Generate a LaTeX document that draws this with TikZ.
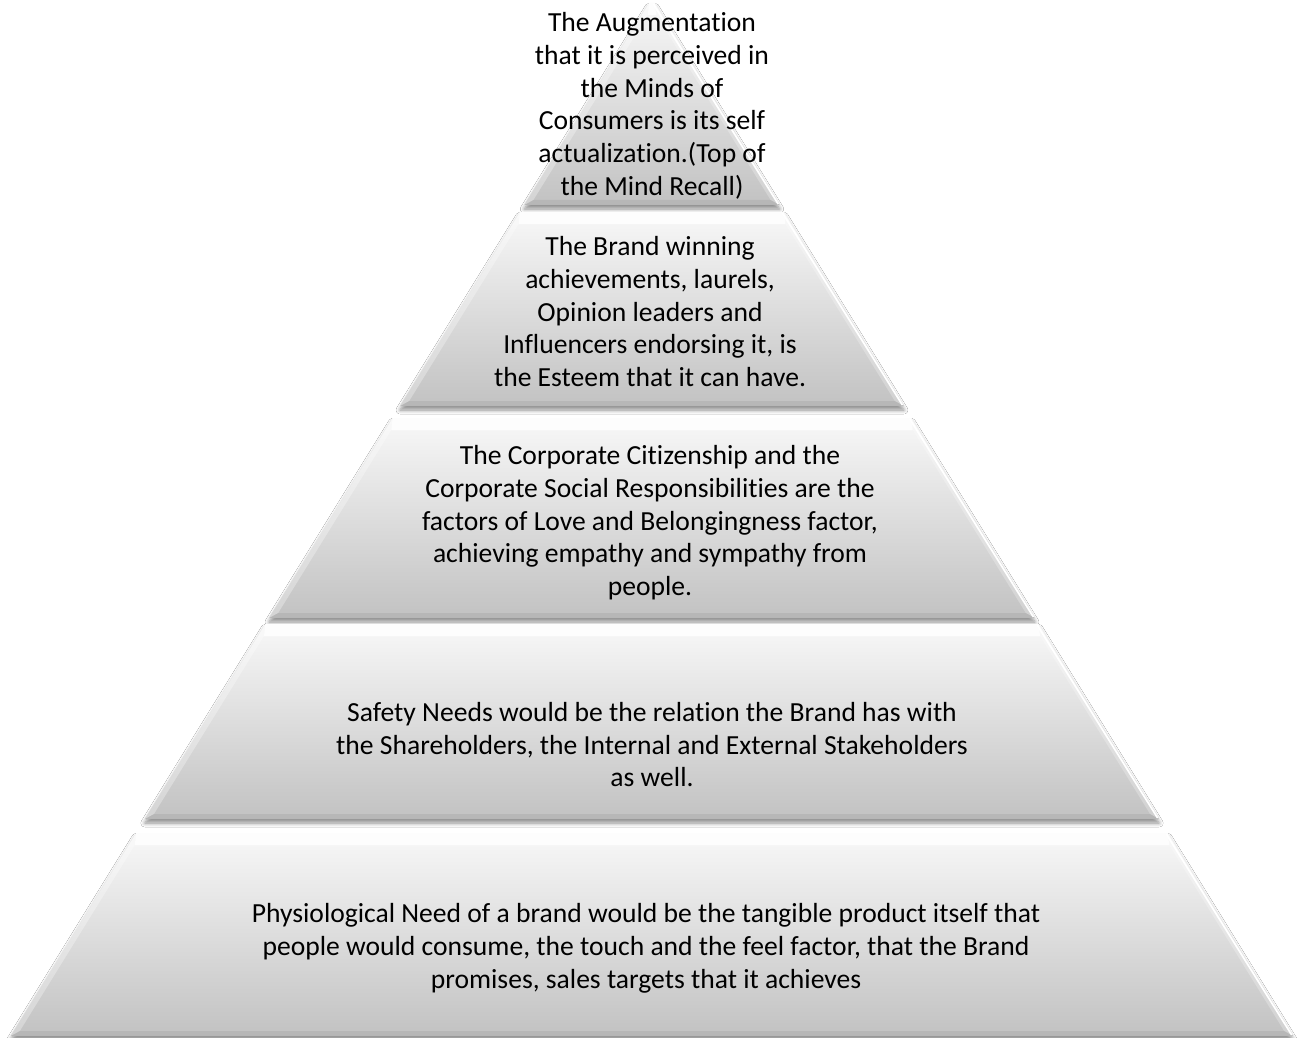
\documentclass[tikz,border=0pt]{standalone}
\usepackage{fontspec}
\setmainfont{Carlito}[Ligatures=NoCommon]
\usetikzlibrary{shadows.blur}

\definecolor{tiertop}{HTML}{F8F8F8}
\definecolor{tierbot}{HTML}{C2C2C2}

\tikzset{
  tierbody/.style={top color=tiertop, bottom color=tierbot,
    blur shadow={shadow xshift=0pt, shadow yshift=-3pt,
      shadow blur radius=3pt, shadow blur steps=6, shadow opacity=45}},
  tierlight/.style={fill=white, opacity=#1},
  tiershade/.style={fill=black, opacity=#1},
  tieredge/.style={draw=white, line width=1.3pt},
  tiertext/.style={align=center, inner sep=0pt, text=black,
    font=\fontsize{20.7}{24.6}\selectfont}
}

% One bevelled band of the pyramid, between y = #1 and y = #2 (pixels, downwards)
\newcommand\pyrtier[2]{%
  \pgfmathsetmacro\hwa{0.618*(#1)+1}%
  \pgfmathsetmacro\hwb{0.618*(#2)+1}%
  \pgfmathsetmacro\hwc{0.618*(#1+12)+1}%
  \pgfmathsetmacro\hwd{0.618*(#2-5)+1}%
  \path[tierbody] (652-\hwa,#1) -- (652+\hwa,#1) -- (652+\hwb,#2)
    -- (652-\hwb,#2) -- cycle;
  % top bevel face
  \fill[tierlight=0.8] (652-\hwa,#1) -- (652+\hwa,#1) -- (652+\hwc-6,#1+12)
    -- (652-\hwc+6,#1+12) -- cycle;
  % side bevel faces
  \fill[tierlight=0.3] (652-\hwa,#1) -- (652-\hwc+6,#1+12) -- (652-\hwd+6,#2-5)
    -- (652-\hwb,#2) -- cycle;
  \fill[tierlight=0.25] (652+\hwa,#1) -- (652+\hwc-6,#1+12) -- (652+\hwd-6,#2-5)
    -- (652+\hwb,#2) -- cycle;
  % bottom bevel face
  \fill[tiershade=0.06] (652-\hwb,#2) -- (652-\hwd+6,#2-5) -- (652+\hwd-6,#2-5)
    -- (652+\hwb,#2) -- cycle;
  % highlight along the right edge
  \draw[tieredge] (652+\hwa-1.5,#1+1) -- (652+\hwb-1.5,#2-1);
}

\begin{document}
\begin{tikzpicture}[x=0.75pt, y=-0.75pt]
  \useasboundingbox[fill=white] (0,0) rectangle (1300,1038);

  \pyrtier{3}{205}
  \pyrtier{212}{406}
  \pyrtier{418}{618}
  \pyrtier{624}{819}
  \pyrtier{833}{1036}

  \node[tiertext] (txt1) at (652,107) {\strut The Augmentation\\
    that it is perceived in\\ the Minds of\\ Consumers is its self\\
    actualization.(Top of\\ the Mind Recall)\strut};
  \node[tiertext] (txt2) at (650,314.5) {\strut The Brand winning\\
    achievements, laurels,\\ Opinion leaders and\\
    Influencers endorsing it, is\\ the Esteem that it can have.\strut};
  \node[tiertext] (txt3) at (650,523.5) {\strut The Corporate Citizenship and the\\
    Corporate Social Responsibilities are the\\
    factors of Love and Belongingness factor,\\
    achieving empathy and sympathy from\\ people.\strut};
  \node[tiertext] (txt4) at (652,747.5) {\strut Safety Needs would be the relation the Brand has with\\
    the Shareholders, the Internal and External Stakeholders\\ as well.\strut};
  \node[tiertext] (txt5) at (646,949) {\strut Physiological Need of a brand would be the tangible product itself that\\
    people would consume, the touch and the feel factor, that the Brand\\
    promises, sales targets that it achieves\strut};
\end{tikzpicture}
\end{document}
